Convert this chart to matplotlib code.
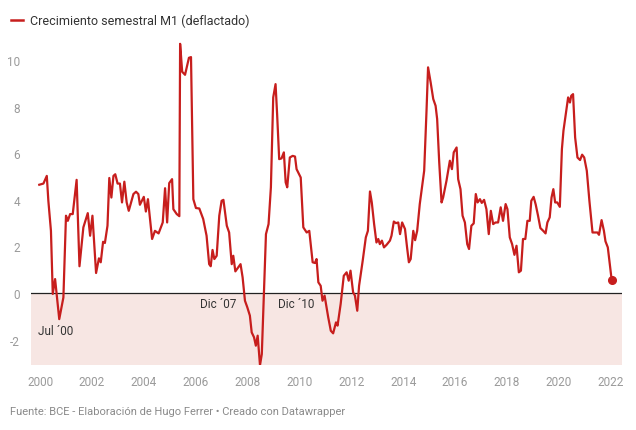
import matplotlib.pyplot as plt
from matplotlib.lines import Line2D

plt.rcParams['font.family'] = ['Roboto', 'DejaVu Sans']

# decimal year, semester growth of M1 (deflated)
years = [
    1999.97, 2000.13, 2000.26, 2000.32, 2000.42, 2000.49, 2000.58, 2000.64, 2000.74, 2000.90,
    2001.00, 2001.07, 2001.16, 2001.26, 2001.41, 2001.52, 2001.67, 2001.84, 2001.93, 2002.02,
    2002.16, 2002.27, 2002.34, 2002.43, 2002.50, 2002.60, 2002.67, 2002.75, 2002.83, 2002.90,
    2002.99, 2003.08, 2003.16, 2003.25, 2003.34, 2003.42, 2003.60, 2003.70, 2003.79, 2003.85,
    2004.00, 2004.08, 2004.16, 2004.32, 2004.43, 2004.57, 2004.73, 2004.82, 2004.90, 2004.98,
    2005.09, 2005.14, 2005.27, 2005.37, 2005.40, 2005.48, 2005.59, 2005.74, 2005.82, 2005.91,
    2006.01, 2006.14, 2006.29, 2006.42, 2006.52, 2006.58, 2006.65, 2006.72, 2006.81, 2006.91,
    2007.00, 2007.07, 2007.20, 2007.29, 2007.39, 2007.45, 2007.53, 2007.64, 2007.73, 2007.81,
    2007.90, 2007.99, 2008.09, 2008.16, 2008.25, 2008.32, 2008.39, 2008.48, 2008.55, 2008.60,
    2008.71, 2008.81, 2008.90, 2008.99, 2009.08, 2009.14, 2009.22, 2009.31, 2009.40, 2009.47,
    2009.53, 2009.63, 2009.74, 2009.83, 2009.89, 2010.05, 2010.15, 2010.28, 2010.38, 2010.51,
    2010.60, 2010.66, 2010.73, 2010.82, 2010.89, 2010.97, 2011.11, 2011.21, 2011.30, 2011.41,
    2011.47, 2011.59, 2011.71, 2011.82, 2011.90, 2011.97, 2012.07, 2012.14, 2012.23, 2012.30,
    2012.44, 2012.56, 2012.64, 2012.72, 2012.79, 2012.88, 2012.97, 2013.04, 2013.10, 2013.18,
    2013.26, 2013.36, 2013.49, 2013.55, 2013.64, 2013.72, 2013.81, 2013.88, 2013.96, 2014.07,
    2014.15, 2014.22, 2014.29, 2014.39, 2014.46, 2014.54, 2014.64, 2014.75, 2014.81, 2014.90,
    2014.96, 2015.06, 2015.16, 2015.25, 2015.31, 2015.39, 2015.48, 2015.54, 2015.67, 2015.80,
    2015.88, 2015.95, 2016.06, 2016.12, 2016.21, 2016.29, 2016.38, 2016.47, 2016.54, 2016.63,
    2016.72, 2016.80, 2016.87, 2016.96, 2017.03, 2017.12, 2017.21, 2017.30, 2017.38, 2017.47,
    2017.56, 2017.66, 2017.76, 2017.85, 2017.95, 2018.02, 2018.11, 2018.20, 2018.29, 2018.37,
    2018.46, 2018.54, 2018.62, 2018.71, 2018.79, 2018.88, 2018.94, 2019.03, 2019.11, 2019.20,
    2019.29, 2019.40, 2019.49, 2019.56, 2019.65, 2019.72, 2019.79, 2019.86, 2019.94, 2020.04,
    2020.12, 2020.18, 2020.27, 2020.36, 2020.43, 2020.48, 2020.55, 2020.63, 2020.72, 2020.82,
    2020.90, 2020.98, 2021.08, 2021.18, 2021.30, 2021.41, 2021.49, 2021.55, 2021.65, 2021.74,
    2021.80, 2021.89, 2022.04,
]
values = [
    4.65, 4.70, 5.03, 3.96, 2.67, -0.04, 0.60, -0.04, -1.12, -0.19,
    3.32, 3.10, 3.39, 3.39, 4.86, 1.15, 2.82, 3.43, 2.46, 3.32,
    0.86, 1.49, 1.32, 2.20, 2.15, 2.89, 4.94, 4.10, 5.03, 5.10,
    4.70, 4.70, 3.89, 4.78, 3.89, 3.53, 4.25, 4.35, 4.25, 3.79,
    4.13, 3.50, 4.03, 2.32, 2.67, 2.56, 3.03, 4.50, 3.03, 4.72,
    4.89, 3.60, 3.39, 3.30, 10.70, 9.50, 9.37, 10.10, 10.13, 4.03,
    3.65, 3.63, 3.18, 2.46, 1.24, 1.15, 1.85, 1.46, 1.60, 3.32,
    3.96, 4.00, 2.89, 2.60, 1.24, 1.60, 0.93, 1.10, 1.24, 0.67,
    -0.33, -0.61, -0.97, -1.69, -1.90, -2.26, -1.83, -3.10, -2.62, -1.04,
    2.53, 2.96, 4.54, 8.40, 8.97, 7.68, 5.75, 5.78, 6.04, 4.75,
    4.54, 5.82, 5.89, 5.86, 5.32, 4.96, 2.82, 2.60, 2.67, 1.32,
    1.29, 1.46, 0.46, 0.31, -0.33, -0.11, -1.04, -1.62, -1.73, -1.26,
    -1.40, -0.47, 0.74, 0.89, 0.53, 0.96, 0.03, -0.11, -0.76, 0.31,
    1.39, 2.39, 2.67, 4.36, 3.89, 2.96, 2.17, 2.32, 2.10, 2.25,
    1.96, 2.07, 2.25, 2.46, 3.07, 3.00, 3.03, 2.53, 3.03, 2.75,
    1.96, 1.32, 1.46, 2.67, 2.27, 2.67, 3.82, 4.75, 5.25, 7.82,
    9.69, 9.04, 8.33, 8.04, 7.47, 5.61, 3.89, 4.10, 4.82, 5.68,
    5.32, 6.04, 6.25, 4.89, 4.46, 3.32, 3.03, 2.10, 1.89, 2.89,
    2.99, 4.25, 3.89, 4.03, 3.87, 4.00, 3.60, 2.53, 3.53, 2.96,
    3.03, 3.03, 3.68, 3.10, 3.82, 3.60, 2.39, 2.10, 1.64, 2.03,
    0.89, 0.96, 2.32, 2.32, 3.10, 3.10, 3.96, 4.13, 3.80, 3.32,
    2.79, 2.67, 2.56, 3.03, 3.25, 4.10, 4.46, 3.89, 3.89, 3.70,
    6.18, 6.97, 7.68, 8.40, 8.18, 8.47, 8.54, 6.68, 5.82, 5.71,
    5.94, 5.82, 5.25, 3.96, 2.60, 2.60, 2.60, 2.50, 3.13, 2.67,
    2.22, 1.96, 0.55,
]

xticks = list(range(2000, 2023, 2))
yticks = [-2, 0, 2, 4, 6, 8, 10]

annotations = [("Jul ´00", 1999.92, -1.59), ("Dic ´07", 2006.17, -0.47), ("Dic ´10", 2009.17, -0.47)]

red = "#c71e1d"
gray = "#9a9a9a"

fig = plt.figure(figsize=(6.36, 4.31), dpi=100)
ax = fig.add_axes([0.0487, 0.1508, 0.929, 0.756])

ymin, ymax = -3.09, 10.9
ax.set_xlim(1999.65, 2022.43)
ax.set_ylim(ymin, ymax)
ax.axhspan(ymin, 0, color="#f7e6e3", zorder=0, lw=0)
ax.axhline(0, color="#222222", lw=0.9, zorder=1)

ax.plot(years, values, color=red, lw=1.6, zorder=3, solid_joinstyle="round")
ax.plot(years[-1], values[-1], "o", color=red, ms=5.5, zorder=4)

for txt, x, y in annotations:
    ax.text(x, y, txt, fontsize=8.5, color="#333333", ha="left", va="center", zorder=5)

ax.set_xticks(xticks)
ax.set_xticklabels([str(y) for y in xticks])
ax.set_yticks(yticks)
ax.set_yticklabels([str(v) for v in yticks])
ax.tick_params(length=0, labelsize=8.5, labelcolor=gray)
ax.tick_params(axis="x", pad=7)
ax.tick_params(axis="y", pad=8)
for s in ax.spines.values():
    s.set_visible(False)

fig.add_artist(Line2D([0.0173, 0.0362], [0.951, 0.951], color=red, lw=1.8, transform=fig.transFigure))
fig.text(0.047, 0.951, "Crecimiento semestral M1 (deflactado)", fontsize=9, color="#333333", va="center")
fig.text(0.0157, 0.044, "Fuente: BCE - Elaboración de Hugo Ferrer • Creado con Datawrapper",
         fontsize=8, color="#8a8a8a", va="center")

plt.savefig("out.png", dpi=100)
plt.close()
